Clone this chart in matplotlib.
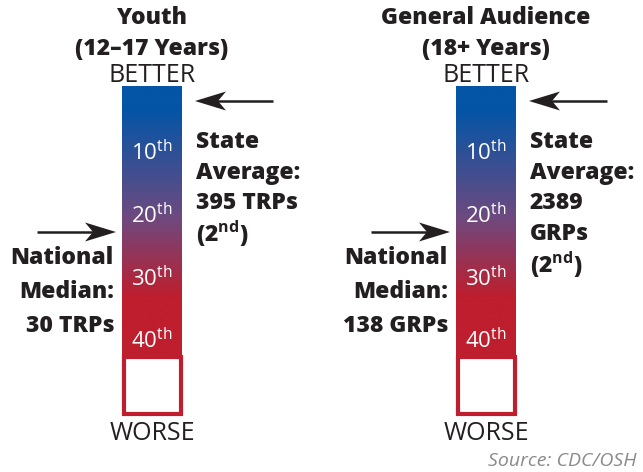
import numpy as np
import matplotlib
matplotlib.use("Agg")
import matplotlib.pyplot as plt
from matplotlib.colors import LinearSegmentedColormap
from matplotlib.patches import Rectangle, Polygon

plt.rcParams["mathtext.fontset"] = "custom"
plt.rcParams["mathtext.rm"] = "Open Sans"
plt.rcParams["mathtext.bf"] = "Open Sans:bold"
plt.rcParams["mathtext.it"] = "Open Sans:italic"

# ---- data ----
panel_titles = ["Youth\n(12–17 Years)", "General Audience\n(18+ Years)"]
percentiles = [10, 20, 30, 40]
state_lines = [["State", "Average:", "395 TRPs", "(2$^{\\mathbf{nd}}$)"],
               ["State", "Average:", "2389", "GRPs", "(2$^{\\mathbf{nd}}$)"]]
national_lines = [["National", "Median:", "30 TRPs"],
                  ["National", "Median:", "138 GRPs"]]
top_label = "BETTER"
bottom_label = "WORSE"
source = "Source: CDC/OSH"

W, H = 643, 472
fig = plt.figure(figsize=(W / 100, H / 100), dpi=100)
ax = fig.add_axes([0, 0, 1, 1])
ax.set_xlim(0, W)
ax.set_ylim(H, 0)
ax.axis("off")

FONT = "Open Sans"
WEIGHT = 800
dark = "#231f20"
blue = "#0455a6"
purple = "#6c4a80"
red = "#be1e2d"

cmap = LinearSegmentedColormap.from_list(
    "g", [(0, blue), (0.09, blue), (0.48, purple), (0.78, red), (1, red)])

bar_left = [122, 456]
bar_w = 60
bar_top = 86
grad_bot = 357
box_bot = 415
label_y = [153, 216, 279, 341]

grad = np.linspace(0, 1, 256).reshape(-1, 1)
BOLD = 16.5


def arrow(x_tail, x_tip, y):
    d = 1 if x_tip > x_tail else -1
    hl, hw, notch = 31, 9.5, 8
    ax.plot([x_tail, x_tip - d * hl * 0.6], [y, y], color=dark, lw=1.8,
            solid_capstyle="butt")
    ax.add_patch(Polygon([(x_tip, y), (x_tip - d * hl, y - hw),
                          (x_tip - d * (hl - notch), y),
                          (x_tip - d * hl, y + hw)],
                         closed=True, facecolor=dark, edgecolor="none"))


for i in range(2):
    x0 = bar_left[i]
    cx = x0 + bar_w / 2
    # title
    t1, t2 = panel_titles[i].split("\n")
    ax.text(cx, 18, t1, ha="center", va="center", fontsize=BOLD,
            fontweight=WEIGHT, family=FONT, color=dark)
    ax.text(cx, 49, t2, ha="center", va="center", fontsize=BOLD,
            fontweight=WEIGHT, family=FONT, color=dark)
    ax.text(cx, 75, top_label, ha="center", va="center", fontsize=18,
            family=FONT, color=dark)
    ax.text(cx, 433, bottom_label, ha="center", va="center", fontsize=18,
            family=FONT, color=dark)
    # gradient bar
    ax.imshow(grad, cmap=cmap, aspect="auto",
              extent=[x0, x0 + bar_w, grad_bot, bar_top], zorder=1,
              interpolation="bilinear")
    # white box with red border
    ax.add_patch(Rectangle((x0 + 1.5, grad_bot), bar_w - 3, box_bot - grad_bot - 1.5,
                           facecolor="white", edgecolor=red, lw=3, zorder=2))
    # percentile labels
    for p, y in zip(percentiles, label_y):
        ax.text(cx, y, f"{p}$^{{\\mathrm{{th}}}}$", ha="center", va="center",
                fontsize=16, family=FONT, color="white", zorder=3)
    # state arrow
    arrow(x0 + bar_w + 91, x0 + bar_w + 13, 101)
    # state text
    sx = x0 + bar_w + 14
    for k, line in enumerate(state_lines[i]):
        ax.text(sx, 142 + k * 30.7, line, ha="left", va="center", fontsize=BOLD,
                fontweight=WEIGHT, family=FONT, color=dark)
    # national arrow
    arrow(x0 - 85, x0 - 6, 232)
    nx = x0 - 8
    for k, line in enumerate(national_lines[i]):
        ax.text(nx, 258 + k * 34, line, ha="right", va="center", fontsize=BOLD,
                fontweight=WEIGHT, family=FONT, color=dark)

ax.text(636, 461, source, ha="right", va="center", fontsize=14,
        style="italic", family=FONT, color="#8a8a8a")

fig.savefig("out.png", dpi=100)
